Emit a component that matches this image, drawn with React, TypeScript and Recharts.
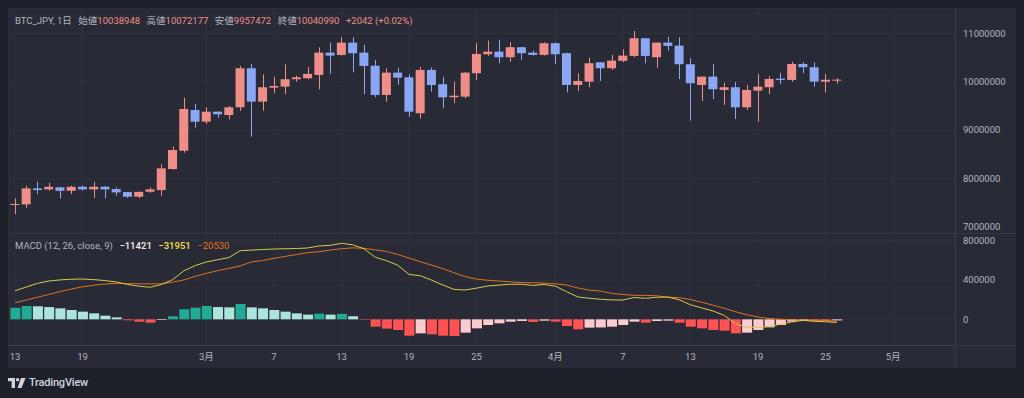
import React from 'react';
import { ComposedChart, Bar, Line, XAxis, YAxis, CartesianGrid, Cell } from 'recharts';

// daily BTC_JPY candles, 13 Feb -> 26 Apr
const opens = [
  7455000, 7462000, 7793000, 7772000, 7814000, 7743000, 7826000, 7772000, 7826000, 7778000,
  7716000, 7620000, 7723000, 7758000, 8193000, 8571000, 9414000, 9172000, 9379000, 9310000,
  9470000, 10277000, 9586000, 9876000, 9897000, 10050000, 10070000, 10139000, 10600000, 10553000,
  10807000, 10600000, 10330000, 9725000, 10186000, 10090000, 9346000, 10242000, 9946000, 9677000,
  9690000, 10174000, 10567000, 10621000, 10505000, 10712000, 10600000, 10553000, 10795000, 10588000,
  9932000, 10000000, 10400000, 10277000, 10430000, 10532000, 10898000, 10505000, 10807000, 10745000,
  10360000, 9932000, 10104000, 9828000, 9884000, 9470000, 9814000, 9884000, 10062000, 10035000,
  10366000, 10298000, 9999000, 10038948,
];
const highs = [
  7586000, 7847000, 7930000, 7909000, 7826000, 7850000, 7850000, 7930000, 7840000, 7810000,
  7720000, 7730000, 7810000, 8290000, 8654000, 9669000, 9538000, 9470000, 9390000, 9497000,
  10325000, 10366000, 10153000, 10100000, 10360000, 10124000, 10300000, 10710000, 10810000, 10919000,
  10919000, 10760000, 10450000, 10277000, 10290000, 10153000, 10300000, 10290000, 10100000, 10000000,
  10200000, 10795000, 10849000, 10863000, 10815000, 10720000, 10640000, 10815000, 10810000, 10600000,
  10174000, 10497000, 10400000, 10553000, 10670000, 11050000, 10900000, 10810000, 10930000, 10919000,
  10484000, 10104000, 10366000, 9980000, 9990000, 9930000, 10153000, 10118000, 10186000, 10414000,
  10400000, 10400000, 10160000, 10072177,
];
const lows = [
  7260000, 7390000, 7675000, 7743000, 7586000, 7675000, 7743000, 7600000, 7586000, 7640000,
  7600000, 7590000, 7700000, 7640000, 8180000, 8530000, 9048000, 9124000, 9255000, 9220000,
  9393000, 8861000, 9400000, 9760000, 9745000, 10000000, 10050000, 9840000, 10160000, 10540000,
  10195000, 9740000, 9677000, 9586000, 9930000, 9275000, 9240000, 9793000, 9450000, 9553000,
  9656000, 10035000, 10532000, 10380000, 10414000, 10450000, 10540000, 10540000, 10360000, 9780000,
  9807000, 9884000, 10014000, 10242000, 10400000, 10505000, 10380000, 10290000, 10640000, 10050000,
  9193000, 9600000, 9642000, 9518000, 9228000, 9414000, 9172000, 9745000, 9952000, 10000000,
  10174000, 9896000, 9772000, 9957472,
];
const closes = [
  7470000, 7793000, 7758000, 7826000, 7743000, 7826000, 7772000, 7826000, 7772000, 7710000,
  7620000, 7720000, 7772000, 8207000, 8586000, 9435000, 9172000, 9379000, 9325000, 9470000,
  10277000, 9586000, 9884000, 9910000, 10050000, 10090000, 10160000, 10600000, 10538000, 10807000,
  10588000, 10325000, 9725000, 10186000, 10083000, 9379000, 10242000, 9930000, 9677000, 9710000,
  10186000, 10573000, 10621000, 10505000, 10712000, 10588000, 10553000, 10795000, 10567000, 9932000,
  10014000, 10380000, 10277000, 10435000, 10538000, 10898000, 10532000, 10807000, 10739000, 10360000,
  9967000, 10104000, 9843000, 9884000, 9470000, 9828000, 9897000, 10056000, 10035000, 10366000,
  10298000, 10000000, 10039000, 10040990,
];

// MACD (12, 26, close, 9)
const macdLine = [
  291000, 330000, 367000, 391000, 402000, 409000, 411000, 405000, 395000, 381000,
  355000, 338000, 327000, 355000, 405000, 495000, 548000, 585000, 608000, 630000,
  700000, 706000, 712000, 717000, 720000, 722000, 728000, 748000, 755000, 775000,
  760000, 720000, 633000, 598000, 552000, 458000, 445000, 400000, 350000, 305000,
  299000, 318000, 340000, 349000, 358000, 358000, 346000, 356000, 338000, 282000,
  228000, 215000, 205000, 198000, 197000, 223000, 214000, 225000, 227000, 200000,
  148000, 116000, 85000, 40000, -45000, -82000, -82000, -72000, -50000, -27000,
  -10000, -20000, -25000, -31951,
];
const signalLine = [
  169000, 197000, 225000, 254000, 283000, 309000, 332000, 348000, 360000, 367000,
  365000, 362000, 361000, 362000, 379000, 402000, 438000, 469000, 496000, 520000,
  545000, 585000, 600000, 622000, 642000, 661000, 680000, 690000, 707000, 720000,
  729000, 725000, 708000, 693000, 661000, 625000, 588000, 553000, 517000, 475000,
  435000, 410000, 398000, 390000, 382000, 375000, 373000, 370000, 362000, 350000,
  320000, 298000, 288000, 265000, 253000, 245000, 244000, 240000, 226000, 220000,
  202000, 174000, 144000, 112000, 78000, 47000, 23000, 8000, 1000, -6000,
  -7000, -8000, -10000, -20530,
];
const histogram = [
  118000, 136000, 133000, 125000, 112000, 95000, 78000, 61000, 37000, 20000,
  -10000, -24000, -34000, -7000, 31000, 102000, 119000, 136000, 125000, 122000,
  156000, 122000, 112000, 95000, 78000, 61000, 48000, 58000, 48000, 55000,
  31000, -5000, -75000, -95000, -109000, -167000, -143000, -153000, -167000, -170000,
  -136000, -92000, -58000, -41000, -24000, -17000, -27000, -14000, -24000, -68000,
  -102000, -85000, -83000, -75000, -58000, -24000, -34000, -17000, -14000, -34000,
  -75000, -92000, -109000, -116000, -143000, -136000, -109000, -82000, -58000, -24000,
  -17000, -19000, -21000, -11421,
];

const dayTicks = [0, 6, 17, 23, 29, 35, 41, 48, 54, 60, 66, 72, 78];
const dayTickLabels = ['13', '19', '3月', '7', '13', '19', '25', '4月', '7', '13', '19', '25', '5月'];
const priceTicks = [7000000, 8000000, 9000000, 10000000, 11000000];
const macdTicks = [0, 400000, 800000];
const totalDays = 84; // visible slots incl. empty space on the right

const UP = '#ef8d88';
const DOWN = '#8ba6f4';
const GRID = '#30333e';
const AXIS_TEXT = '#b2b5be';
const FONT = "Roboto, 'Noto Sans CJK JP', sans-serif";

const rows = Array.from({ length: totalDays }, (_, i) =>
  i < opens.length
    ? {
        i,
        open: opens[i],
        high: highs[i],
        low: lows[i],
        close: closes[i],
        range: [lows[i], highs[i]],
        macd: macdLine[i],
        signal: signalLine[i],
        hist: histogram[i],
      }
    : { i, range: null, macd: null, signal: null, hist: null }
);

const labelOf = (v: number) => dayTickLabels[dayTicks.indexOf(v)] ?? '';

function histColor(i: number) {
  const v = histogram[i];
  const prev = i > 0 ? histogram[i - 1] : 0;
  if (v >= 0) return v > prev ? '#22ab94' : '#ace5dc';
  return v < prev ? '#ff5252' : '#fccbcd';
}

function Candle(props: any) {
  const { x, y, width, height, payload } = props;
  if (!payload || payload.open == null) return null;
  const { open, close, high, low } = payload;
  const top = Math.min(y, y + height);
  const h = Math.abs(height);
  const k = high > low ? h / (high - low) : 0;
  const yOf = (v: number) => top + (high - v) * k;
  const color = close >= open ? UP : DOWN;
  const bTop = yOf(Math.max(open, close));
  const bBot = yOf(Math.min(open, close));
  const cx = Math.round(x + width / 2) + 0.5;
  return (
    <g>
      <line x1={cx} x2={cx} y1={top} y2={top + h} stroke={color} strokeWidth={1} />
      <rect x={x} y={bTop} width={width} height={Math.max(1, bBot - bTop)} fill={color} />
    </g>
  );
}

const yTick = { fill: AXIS_TEXT, fontSize: 9.5, fontFamily: FONT };

export default function App() {
  const margin = { top: 0, right: 0, bottom: 0, left: 1.4 };
  return (
    <div style={{ position: 'fixed', left: 0, top: 0, width: 1024, height: 398, background: '#1e2029', fontFamily: FONT }}>
      <div style={{ position: 'absolute', left: 8, top: 8, width: 1008, height: 360, background: '#282b36' }}>
        <ComposedChart width={1008} height={225} data={rows} margin={margin}>
          <CartesianGrid stroke={GRID} strokeWidth={1} />
          <XAxis dataKey="i" hide ticks={dayTicks} interval={0} />
          <YAxis
            orientation="right"
            width={61}
            domain={[6870000, 11523000]}
            allowDataOverflow
            ticks={priceTicks}
            tick={yTick}
            axisLine={false}
            tickLine={false}
            tickSize={0}
            tickMargin={8}
          />
          <Bar dataKey="range" barSize={9} shape={Candle} isAnimationActive={false} />
        </ComposedChart>

        <div style={{ position: 'absolute', left: 0, top: 225 }}>
          <ComposedChart width={1008} height={135} data={rows} margin={margin}>
            <CartesianGrid stroke={GRID} strokeWidth={1} />
            <XAxis
              dataKey="i"
              ticks={dayTicks}
              interval={0}
              tickFormatter={labelOf}
              height={23}
              axisLine={false}
              tickLine={false}
              tickSize={0}
              tickMargin={8}
              tick={{ fill: AXIS_TEXT, fontSize: 9.5, fontFamily: FONT }}
            />
            <YAxis
              orientation="right"
              width={61}
              domain={[-262000, 880600]}
              allowDataOverflow
              ticks={macdTicks}
              tick={yTick}
              axisLine={false}
              tickLine={false}
              tickSize={0}
              tickMargin={8}
            />
            <Bar dataKey="hist" barSize={10} isAnimationActive={false}>
              {histogram.map((_, i) => (
                <Cell key={i} fill={histColor(i)} />
              ))}
            </Bar>
            <Line dataKey="signal" stroke="#e0711f" strokeWidth={1} dot={false} isAnimationActive={false} />
            <Line dataKey="macd" stroke="#d9c94c" strokeWidth={1} dot={false} isAnimationActive={false} />
          </ComposedChart>
        </div>

        {/* pane separators */}
        <div style={{ position: 'absolute', left: 947, top: 0, width: 1, height: 360, background: '#363a46' }} />
        <div style={{ position: 'absolute', left: 0, top: 225, width: 1008, height: 1, background: '#343844' }} />
        <div style={{ position: 'absolute', left: 0, top: 337, width: 1008, height: 1, background: '#363a46' }} />
      </div>

      {/* legend rows */}
      <div style={{ position: 'absolute', left: 15, top: 14.5, fontSize: 9.5, lineHeight: '12px', color: AXIS_TEXT, whiteSpace: 'nowrap' }}>
        <span>BTC_JPY, 1日</span>
        <span style={{ marginLeft: 6.5 }}>始値</span><span style={{ color: UP }}>10038948</span>
        <span style={{ marginLeft: 6.5 }}>高値</span><span style={{ color: UP }}>10072177</span>
        <span style={{ marginLeft: 6.5 }}>安値</span><span style={{ color: UP }}>9957472</span>
        <span style={{ marginLeft: 6.5 }}>終値</span><span style={{ color: UP }}>10040990</span>
        <span style={{ marginLeft: 6.5, color: UP }}>+2042 (+0.02%)</span>
      </div>
      <div style={{ position: 'absolute', left: 15, top: 239.5, fontSize: 9.5, lineHeight: '12px', color: AXIS_TEXT, whiteSpace: 'nowrap' }}>
        <span>MACD (12, 26, close, 9)</span>
        <span style={{ marginLeft: 6.5, color: '#f2e2e3', fontWeight: 600 }}>−11421</span>
        <span style={{ marginLeft: 6.5, color: '#e8d84c', fontWeight: 600 }}>−31951</span>
        <span style={{ marginLeft: 6.5, color: '#e8721c' }}>−20530</span>
      </div>

      {/* TradingView mark */}
      <div style={{ position: 'absolute', left: 8, top: 376, display: 'flex', alignItems: 'center', color: '#d1d4dc' }}>
        <svg width={18} height={10} viewBox="0 0 18 10">
          <rect x={0} y={0} width={7} height={3.2} fill="#d1d4dc" />
          <rect x={3.6} y={0} width={3.4} height={10} fill="#d1d4dc" />
          <circle cx={9.6} cy={1.7} r={1.7} fill="#d1d4dc" />
          <polygon points="13,0 17.5,0 13.5,10 9.5,10" fill="#d1d4dc" />
        </svg>
        <span style={{ marginLeft: 3, fontSize: 11, fontWeight: 500, letterSpacing: -0.2 }}>TradingView</span>
      </div>
    </div>
  );
}
